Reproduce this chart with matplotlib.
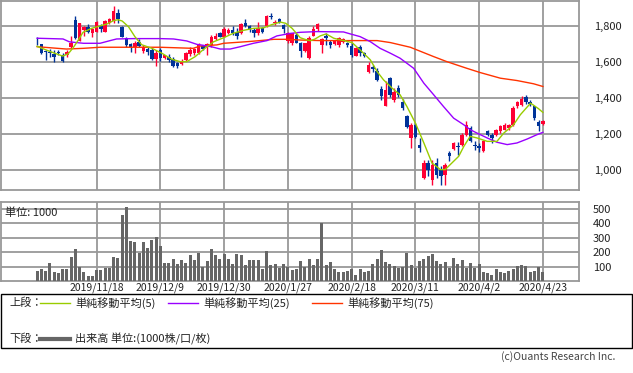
import numpy as np
import matplotlib
matplotlib.use("Agg")
import matplotlib.pyplot as plt
from matplotlib.lines import Line2D

plt.rcParams['font.family'] = ['Noto Sans CJK JP', 'DejaVu Sans']

# 日付 (営業日) とラベル
tick_idx = [14, 29, 44, 59, 74, 89, 104, 119]
tick_labels = ["2019/11/18", "2019/12/9", "2019/12/30", "2020/1/27",
               "2020/2/18", "2020/3/11", "2020/4/2", "2020/4/23"]

# 4本値
opens = [1702, 1700, 1660, 1658, 1643, 1656, 1639, 1639, 1685, 1833,
         1719, 1778, 1796, 1763, 1769, 1800, 1769, 1815, 1830, 1874,
         1796, 1732, 1700, 1682, 1713, 1663, 1671, 1667, 1615, 1667,
         1621, 1626, 1615, 1593, 1589, 1612, 1645, 1649, 1649, 1689,
         1685, 1695, 1726, 1759, 1741, 1759, 1778, 1769, 1759, 1815,
         1800, 1778, 1759, 1787, 1800, 1855, 1815, 1837, 1806, 1719,
         1704, 1750, 1707, 1663, 1621, 1746, 1782, 1695, 1746, 1713,
         1700, 1695, 1713, 1704, 1689, 1636, 1685, 1649, 1547, 1571,
         1551, 1449, 1353, 1510, 1390, 1454, 1375, 1301, 1178, 1251,
         1141, 956, 1039, 947, 1039, 1002, 974, 1095, 1117, 1135,
         1141, 1196, 1233, 1141, 1135, 1104, 1218, 1196, 1196, 1215,
         1224, 1233, 1251, 1353, 1362, 1408, 1375, 1353, 1266, 1255]
highs = [1737, 1702, 1667, 1671, 1667, 1667, 1649, 1667, 1745, 1855,
         1818, 1800, 1811, 1787, 1830, 1811, 1833, 1842, 1911, 1892,
         1800, 1741, 1704, 1719, 1726, 1695, 1685, 1676, 1667, 1676,
         1640, 1645, 1626, 1602, 1615, 1658, 1685, 1676, 1708, 1695,
         1704, 1750, 1759, 1769, 1793, 1787, 1800, 1787, 1818, 1837,
         1806, 1787, 1824, 1796, 1861, 1870, 1833, 1842, 1811, 1769,
         1763, 1759, 1713, 1708, 1745, 1800, 1815, 1732, 1759, 1722,
         1722, 1741, 1735, 1713, 1704, 1685, 1695, 1658, 1602, 1584,
         1566, 1464, 1492, 1519, 1454, 1473, 1393, 1307, 1260, 1260,
         1178, 1058, 1054, 1058, 1067, 1021, 1039, 1104, 1154, 1154,
         1205, 1270, 1246, 1159, 1150, 1168, 1224, 1205, 1230, 1251,
         1260, 1255, 1353, 1386, 1412, 1417, 1390, 1356, 1275, 1279]
lows = [1694, 1645, 1612, 1626, 1602, 1640, 1600, 1626, 1676, 1726,
        1717, 1745, 1759, 1741, 1765, 1769, 1765, 1811, 1815, 1815,
        1737, 1685, 1658, 1649, 1685, 1649, 1640, 1612, 1578, 1608,
        1618, 1602, 1571, 1569, 1584, 1608, 1634, 1640, 1645, 1667,
        1640, 1685, 1722, 1737, 1737, 1756, 1750, 1726, 1756, 1796,
        1769, 1737, 1750, 1759, 1796, 1837, 1806, 1815, 1759, 1708,
        1695, 1704, 1630, 1658, 1615, 1744, 1774, 1649, 1695, 1676,
        1695, 1685, 1704, 1685, 1630, 1634, 1636, 1626, 1541, 1547,
        1492, 1390, 1353, 1408, 1380, 1408, 1334, 1233, 1122, 1178,
        1098, 950, 965, 919, 956, 919, 919, 1048, 1113, 1085,
        1131, 1187, 1154, 1113, 1100, 1100, 1187, 1150, 1187, 1205,
        1220, 1224, 1246, 1344, 1356, 1367, 1356, 1279, 1214, 1251]
closes = [1698, 1649, 1655, 1652, 1626, 1652, 1608, 1658, 1708, 1732,
          1815, 1796, 1768, 1782, 1824, 1782, 1830, 1837, 1885, 1837,
          1737, 1695, 1682, 1708, 1689, 1685, 1658, 1615, 1652, 1621,
          1639, 1612, 1575, 1575, 1608, 1649, 1667, 1671, 1695, 1671,
          1700, 1741, 1745, 1741, 1782, 1778, 1759, 1745, 1811, 1800,
          1782, 1759, 1787, 1769, 1855, 1848, 1824, 1824, 1782, 1759,
          1759, 1708, 1663, 1704, 1732, 1782, 1809, 1726, 1732, 1695,
          1715, 1735, 1726, 1695, 1639, 1676, 1649, 1634, 1584, 1562,
          1501, 1412, 1445, 1418, 1436, 1418, 1344, 1237, 1251, 1181,
          1122, 1039, 1002, 1030, 974, 965, 1030, 1076, 1150, 1128,
          1196, 1251, 1159, 1133, 1122, 1159, 1196, 1178, 1224, 1242,
          1251, 1251, 1344, 1375, 1393, 1375, 1367, 1288, 1246, 1273]

# 出来高 (1000株)
volume = [68, 83, 68, 123, 61, 55, 82, 82, 165, 220,
          99, 62, 39, 39, 76, 76, 90, 90, 169, 163,
          457, 509, 275, 267, 195, 267, 229, 285, 302, 240,
          125, 125, 152, 120, 144, 125, 180, 146, 195, 100,
          139, 220, 180, 153, 188, 153, 118, 188, 180, 109,
          146, 146, 146, 84, 208, 109, 118, 93, 118, 95,
          77, 82, 139, 100, 153, 111, 153, 399, 111, 134,
          84, 66, 66, 73, 84, 46, 84, 64, 73, 118,
          153, 215, 134, 118, 104, 93, 100, 197, 111, 93,
          139, 153, 174, 188, 139, 118, 134, 93, 157, 118,
          146, 93, 123, 93, 118, 66, 55, 46, 86, 66,
          55, 68, 86, 104, 111, 104, 66, 73, 95, 64]

# 移動平均
ma5_x = [0, 2, 4, 6, 7.3, 8.5, 9.7, 10.8, 12.8, 14, 16.5, 18, 19, 20, 21.5, 23,
         24.6, 27, 29.4, 31.7, 33.7, 35.2, 37.2, 39, 41.5, 43.9, 46.2, 48.6,
         50.9, 53.3, 55, 57.2, 58.5, 60, 61.9, 63, 64.3, 65.4, 66.6, 68, 69.8,
         72.1, 74.1, 76, 78.4, 80, 81.5, 83.5, 85.4, 87, 89, 91, 92.9, 94.9,
         96, 97.6, 99.2, 100.4, 101.9, 103.5, 105.9, 108.2, 109.8, 112.1,
         113.7, 116.1, 116.8, 118, 119]
ma5_y = [1687, 1668, 1650, 1633, 1645, 1680, 1722, 1765, 1787, 1795, 1812, 1830,
         1835, 1828, 1796, 1741, 1696, 1676, 1648, 1615, 1602, 1602, 1630, 1667,
         1712, 1735, 1760, 1776, 1787, 1790, 1806, 1822, 1815, 1787, 1735, 1726,
         1718, 1728, 1745, 1756, 1732, 1719, 1708, 1667, 1612, 1547, 1501, 1455,
         1418, 1353, 1261, 1150, 1039, 1002, 1002, 1039, 1076, 1131, 1187, 1178,
         1159, 1159, 1205, 1251, 1307, 1371, 1360, 1340, 1320]
ma25_x = [0, 6.1, 7.6, 10.9, 14.8, 17.2, 18.7, 22.6, 28.9, 32.1, 35.2, 37.6,
          39.9, 41.5, 43.1, 45.4, 47.8, 50.9, 54.1, 56.4, 59.6, 61.9, 65.8,
          72.1, 73.7, 76, 78.4, 80.7, 83.1, 85.4, 88.6, 91, 93.3, 95.6, 98,
          100.4, 101.9, 103.5, 105.9, 108.2, 110.6, 112.9, 115.3, 117.6, 119]
ma25_y = [1732, 1728, 1712, 1704, 1704, 1719, 1728, 1730, 1730, 1728, 1717, 1698,
          1690, 1682, 1672, 1672, 1685, 1704, 1719, 1745, 1759, 1765, 1769,
          1767, 1756, 1741, 1713, 1676, 1649, 1621, 1565, 1482, 1418, 1353,
          1288, 1251, 1224, 1205, 1178, 1154, 1141, 1150, 1172, 1196, 1209]
ma75_x = [0, 6.9, 10.9, 14.8, 28.9, 36.7, 38.4, 42.3, 43.9, 49.4, 52.5, 55.7,
          58.8, 61.9, 66.6, 80, 83.1, 87.8, 93.3, 96.4, 101.1, 104.3, 109,
          112.9, 116.8, 119]
ma75_y = [1685, 1672, 1676, 1682, 1682, 1676, 1689, 1695, 1704, 1713, 1719, 1726,
          1726, 1722, 1719, 1719, 1708, 1682, 1630, 1602, 1565, 1541, 1510,
          1497, 1479, 1464]

UP = '#ff0033'
DOWN = '#003399'
GRID = '#999999'
TXT = '#222222'

W, H = 633, 373
fig = plt.figure(figsize=(W / 100, H / 100), dpi=100)
ax = fig.add_axes([1 / W, 1 - 190.3 / H, 578 / W, 189.3 / H])
axv = fig.add_axes([1 / W, 1 - 281.2 / H, 578 / W, 79.5 / H])

idx = np.arange(len(closes))
o = np.array(opens)
c = np.array(closes)
colors = [UP if cc >= oo else DOWN for oo, cc in zip(o, c)]

for a in (ax, axv):
    a.set_xlim(-8.5, 127.5)
    a.set_xticks(tick_idx)
    for x in tick_idx:
        a.axvline(x, color=GRID, lw=1.3, zorder=0)
    for s in a.spines.values():
        s.set_color(GRID)
        s.set_linewidth(1.3)
    a.tick_params(length=0, colors=TXT, labelsize=8)
    a.yaxis.tick_right()

# 上段
ax.set_ylim(887, 1939)
yt = [1000, 1200, 1400, 1600, 1800]
ax.set_yticks(yt)
ax.set_yticklabels([f"{v:,}" for v in yt])
for v in yt:
    ax.axhline(v, color=GRID, lw=1.3, zorder=0)
ax.tick_params(axis='y', pad=11)
ax.set_xticklabels([])

ax.vlines(idx, lows, highs, colors=colors, lw=1.0, zorder=2)
body = np.maximum(np.abs(c - o), 3)
ax.bar(idx, body, bottom=np.minimum(o, c), width=0.8, color=colors, zorder=3)

ax.plot(ma75_x, ma75_y, color='#ff3300', lw=1.0, zorder=4)
ax.plot(ma25_x, ma25_y, color='#9900ff', lw=1.0, zorder=4)
ax.plot(ma5_x, ma5_y, color='#99cc00', lw=1.0, zorder=5)

# 下段
axv.set_ylim(0, 548)
vt = [100, 200, 300, 400, 500]
axv.set_yticks(vt)
for v in vt:
    axv.axhline(v, color=GRID, lw=1.3, zorder=0)
axv.tick_params(axis='y', pad=10)
axv.set_xticklabels(tick_labels, fontsize=7.5)
axv.tick_params(axis='x', pad=1)
axv.bar(idx, volume, width=0.75, color='#666666', zorder=3)
axv.text(0.007, 0.93, "単位: 1000", transform=axv.transAxes, fontsize=8,
         color=TXT, va='top', ha='left')

# 凡例
fig.patches.append(plt.Rectangle((1 / W, 1 - 348 / H), 630.5 / W, 54 / H,
                                 transform=fig.transFigure, fill=False,
                                 edgecolor='black', lw=1.0))
ly1 = 1 - 303 / H
ly2 = 1 - 339 / H
fig.text(9 / W, ly1, "上段：", fontsize=8, color=TXT, va='center')
fig.text(9 / W, ly2, "下段：", fontsize=8, color=TXT, va='center')
items = [(40, '#99cc00', "単純移動平均(5)"),
         (168, '#9900ff', "単純移動平均(25)"),
         (312, '#ff3300', "単純移動平均(75)")]
for x0, col, lab in items:
    fig.add_artist(Line2D([x0 / W, (x0 + 30) / W], [ly1, ly1], color=col, lw=1.0))
    fig.text((x0 + 35) / W, ly1, lab, fontsize=8, color=TXT, va='center')
fig.add_artist(Line2D([40 / W, 70 / W], [ly2, ly2], color='#666666', lw=3))
fig.text(75 / W, ly2, "出来高 単位:(1000株/口/枚)", fontsize=8, color=TXT, va='center')
fig.text(615 / W, 1 - 357 / H, "(c)Ouants Research Inc.", fontsize=7.5,
         color='#444444', ha='right', va='center')

fig.savefig("out.png", dpi=100)
